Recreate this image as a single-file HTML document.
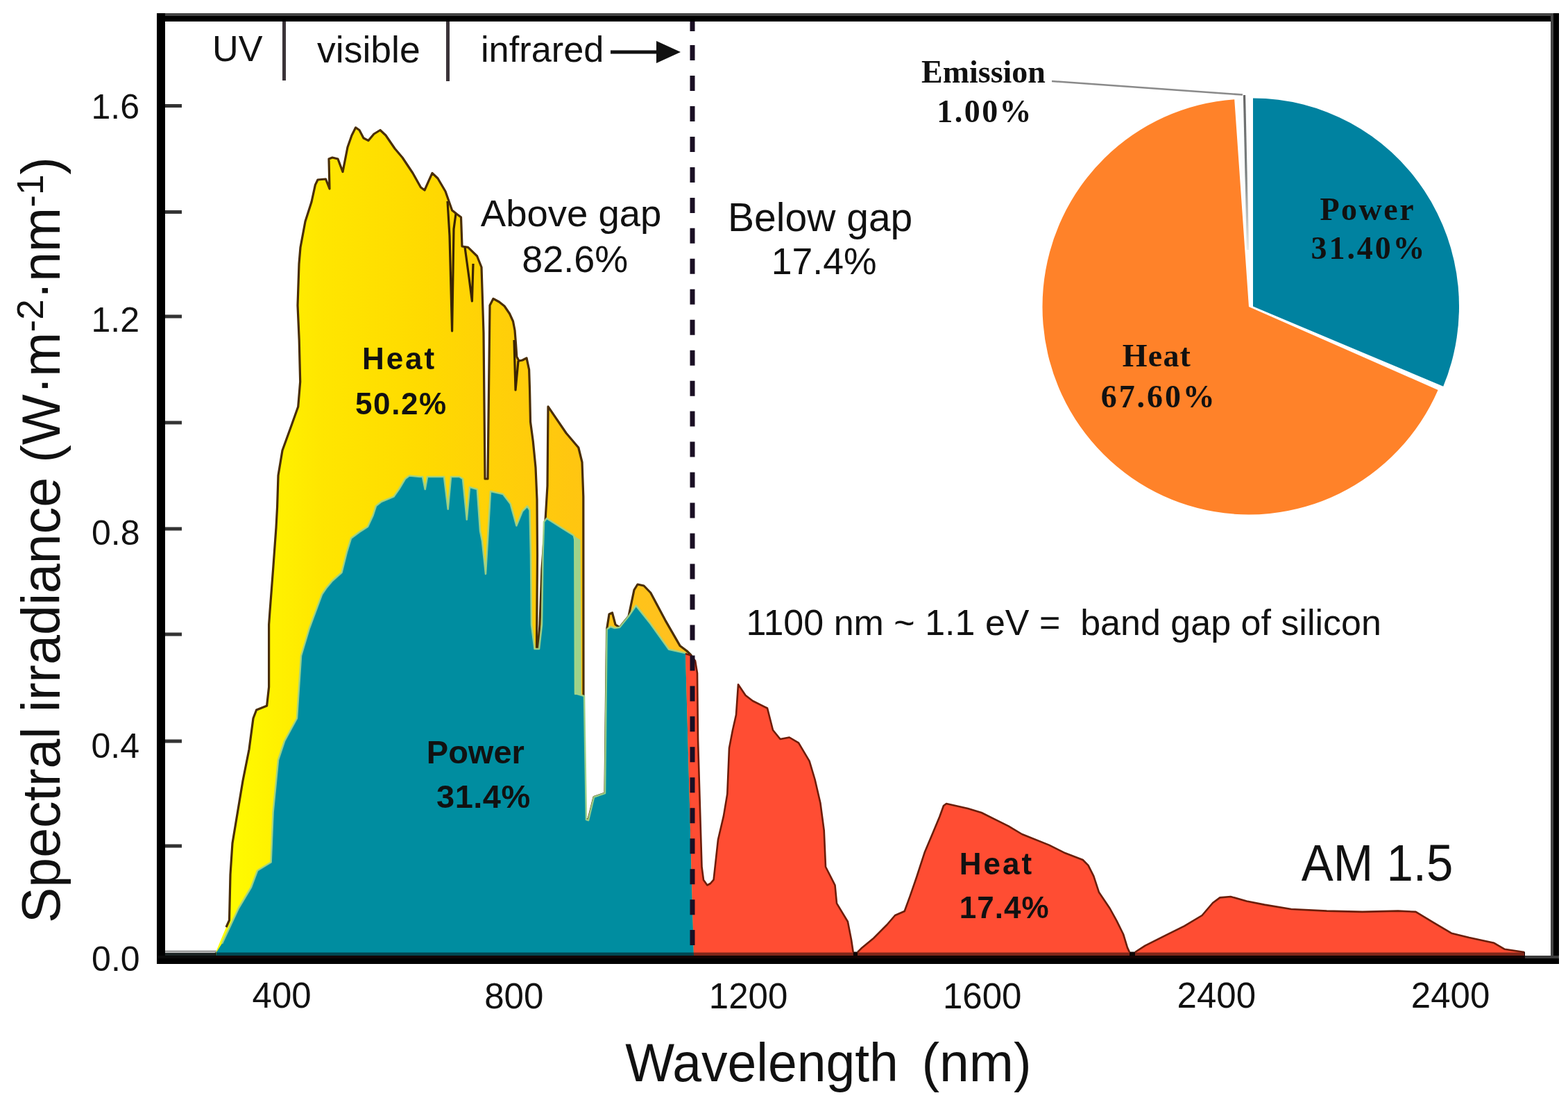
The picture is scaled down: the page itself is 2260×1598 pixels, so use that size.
<!DOCTYPE html>
<html><head><meta charset="utf-8"><title>AM 1.5 spectrum</title>
<style>
html,body{margin:0;padding:0;background:#fff;}
svg{display:block;}
text{font-family:"Liberation Sans",sans-serif;fill:#111;}
.b{font-weight:bold;}
.serif{font-family:"Liberation Serif",serif;font-weight:bold;}
</style></head><body>
<svg width="2260" height="1598" viewBox="0 0 2260 1598">
<defs>
<linearGradient id="yg" x1="330" y1="0" x2="1000" y2="0" gradientUnits="userSpaceOnUse">
<stop offset="0" stop-color="#FFFC00"/><stop offset="0.13" stop-color="#FFEE00"/><stop offset="0.2" stop-color="#FFE600"/>
<stop offset="0.42" stop-color="#FFDA00"/><stop offset="0.74" stop-color="#FFC610"/><stop offset="1" stop-color="#FFC022"/>
</linearGradient>
<linearGradient id="eg" x1="0" y1="137" x2="0" y2="360" gradientUnits="userSpaceOnUse"><stop offset="0" stop-color="#666"/><stop offset="0.5" stop-color="#7a8080"/><stop offset="1" stop-color="#e8eeee"/></linearGradient>
</defs>
<rect width="2260" height="1598" fill="#fff"/>
<!-- spectrum areas -->
<rect x="310" y="1371.5" width="1888" height="6" fill="#1a0a08"/>
<polygon points="310,1377.5 311,1372 318,1355 326,1336 330.5,1326 332,1260 335,1215 341,1179 350,1125 359,1080 365,1035 369.6,1023 384.6,1017 387.6,990 387.6,900 389,880.6 393.6,820.5 398,760 399.6,730 401,685 407,649 419,616 429.7,586 432.7,550 431.2,490 429,440 431,380 433,356.5 440,319 449,291 454.4,266.4 458,259 469.5,258 475,272 474,229 479,227 487,229 494,247.6 501,212 507,195 512.6,183.8 518,187.5 524,199 531,202.6 539,193 548,187.5 556,195 569,214 580,227 595,249.5 606.5,270 612,274 617.8,260.8 623,249.5 631,257 642,275.8 651.6,303 658.8,308.8 664.5,313 666,355 674.6,356.3 687.6,369 694,385 697,480 699,690 703,690 706,440 711,430.3 719.4,435 727,441 734.5,452 739.5,463 742,476 743.5,495 744.8,514 748,520 753,519 759,515.8 762.6,532.7 763.5,560 764.5,607.8 768.3,636 772,673.5 774,720 774.5,800 773.5,932.8 775.5,936 778,900 781,820 786,750 789,700 790,585.8 816,624 833.8,645 839,666 840.8,715.5 841,1000 843,1180 848,1181 856,1148.6 872,1143 874.6,906.8 878,885 882.5,883 887,900 893,904 906,888 914,850 919,842 928,844 937.7,854 958.8,893.6 980,930.4 990,938 1000,1377.5" fill="url(#yg)"/>
<polyline points="326,1336 330.5,1326 332,1260 335,1215 341,1179 350,1125 359,1080 365,1035 369.6,1023 384.6,1017 387.6,990 387.6,900 389,880.6 393.6,820.5 398,760 399.6,730 401,685 407,649 419,616 429.7,586 432.7,550 431.2,490 429,440 431,380 433,356.5 440,319 449,291 454.4,266.4 458,259 469.5,258 475,272 474,229 479,227 487,229 494,247.6 501,212 507,195 512.6,183.8 518,187.5 524,199 531,202.6 539,193 548,187.5 556,195 569,214 580,227 595,249.5 606.5,270 612,274 617.8,260.8 623,249.5 631,257 642,275.8 651.6,303 658.8,308.8 664.5,313 666,355 674.6,356.3 687.6,369 694,385 697,480 699,690 703,690 706,440 711,430.3 719.4,435 727,441 734.5,452 739.5,463 742,476 743.5,495 744.8,514 748,520 753,519 759,515.8 762.6,532.7 763.5,560 764.5,607.8 768.3,636 772,673.5 774,720 774.5,800 773.5,932.8 775.5,936 778,900 781,820 786,750 789,700 790,585.8 816,624 833.8,645 839,666 840.8,715.5 841,1000 843,1180 848,1181 856,1148.6 872,1143 874.6,906.8 878,885 882.5,883 887,900 893,904 906,888 914,850 919,842 928,844 937.7,854 958.8,893.6 980,930.4 990,938 996,944 1002,956" fill="none" stroke="#4a2e08" stroke-width="3.2" stroke-linejoin="round"/>
<polygon points="311,1377.5 312,1372 320,1359.6 344,1308.5 362,1278.5 371,1254.5 390.6,1242.5 393.6,1170 401,1095 410,1068 428,1035 434,945 446,905 464,856.6 470,847.7 479,837 492.5,825 500,795 506,775.6 518,766.6 530,759 537.6,742.6 542,729 549.6,723 567.6,715.6 575,705 584,690 590,685.5 605,687 609,687 612.7,705 616,687 635,687 640,687 645.7,733.6 650,687 662,687 667,690 672.8,748.6 677,702 687.8,705 692,765 695,780 700,827 704,760 707,708 709.4,708.4 725,712 735.7,726 744.4,757.5 753,736.5 760,729.5 763.5,735 765,800 766,900 770.5,935 777,935 781,900 782.5,800 784,752 788,747 826.8,771.5 829,780 829,999 842,1003 845,1181 848,1182 856,1148.6 872,1143 874.6,906.8 880,903 886,905 893,904 906,888 916.7,872.6 937.7,898.9 964,935.7 987.7,941 988,942 1000,1377.5" fill="#008DA0"/>
<polygon points="827,772 836.5,778 838,1001 828,1001" fill="#9fd28a"/>
<polyline points="320,1359.6 344,1308.5 362,1278.5 371,1254.5 390.6,1242.5 393.6,1170 401,1095 410,1068 428,1035 434,945 446,905 464,856.6 470,847.7 479,837 492.5,825 500,795 506,775.6 518,766.6 530,759 537.6,742.6 542,729 549.6,723 567.6,715.6 575,705 584,690 590,685.5 605,687 609,687 612.7,705 616,687 635,687 640,687 645.7,733.6 650,687 662,687 667,690 672.8,748.6 677,702 687.8,705 692,765 695,780 700,827 704,760 707,708 709.4,708.4 725,712 735.7,726 744.4,757.5 753,736.5 760,729.5 763.5,735 765,800 766,900 770.5,935 777,935 781,900 782.5,800 784,752 788,747 826.8,771.5 829,780 829,999 842,1003 845,1181 848,1182 856,1148.6 872,1143 874.6,906.8 880,903 886,905 893,904 906,888 916.7,872.6 937.7,898.9 964,935.7 987.7,941" fill="none" stroke="#a2d488" stroke-width="2.6" stroke-linejoin="round" opacity="0.9"/>
<polygon points="988,942 995,944 1002,952 1005,970 1006,1065 1010,1200 1011.5,1249 1014,1268 1019.4,1275.5 1024,1273 1028.6,1267.6 1035,1209.7 1043,1175.6 1048.3,1144 1051,1078 1056,1052 1061,1030 1064,986.3 1074.6,1002 1085,1010 1106,1020.5 1114,1052 1124.6,1065 1137.7,1062.5 1151,1070.4 1166.6,1096.7 1174.5,1123 1182.4,1157 1187.7,1196.6 1190,1249 1203.5,1275.5 1206,1301.7 1221.9,1328 1227,1354 1229.7,1372 1230,1377.5 1000,1377.5" fill="#FF4D33"/>
<polygon points="1236,1377.5 1236,1372 1241.4,1366.6 1259,1352 1278.4,1332.5 1290,1319 1303.7,1313 1311.5,1291.6 1321,1264.3 1333,1227.4 1344.6,1200 1354.3,1176.7 1360,1161 1364,1158 1395,1165 1414.7,1171 1434,1180.6 1453.6,1190.4 1473,1202 1512,1217.6 1535.4,1229.3 1560.7,1239 1568.5,1246.8 1576.3,1262.4 1584,1285.8 1599.7,1309 1609.4,1326.7 1619,1346 1625,1365.6 1628,1372 1628,1377.5" fill="#FF4D33"/>
<polygon points="1636,1377.5 1636,1372 1650.5,1362.6 1681.3,1347.2 1707,1334.4 1732.6,1319 1748,1301 1758.3,1293.4 1773.7,1292 1796.8,1298.5 1822.5,1303.6 1861,1310 1912.3,1312.6 1963.6,1313.9 2015,1312.6 2040.6,1313.9 2053.4,1321.6 2066.2,1329.3 2092,1344.7 2117.6,1351 2153.5,1358.8 2168.9,1367.8 2197,1372 2197,1377.5" fill="#FF4D33"/>
<polyline points="988,942 995,944 1002,952 1005,970 1006,1065 1010,1200 1011.5,1249 1014,1268 1019.4,1275.5 1024,1273 1028.6,1267.6 1035,1209.7 1043,1175.6 1048.3,1144 1051,1078 1056,1052 1061,1030 1064,986.3 1074.6,1002 1085,1010 1106,1020.5 1114,1052 1124.6,1065 1137.7,1062.5 1151,1070.4 1166.6,1096.7 1174.5,1123 1182.4,1157 1187.7,1196.6 1190,1249 1203.5,1275.5 1206,1301.7 1221.9,1328 1227,1354 1229.7,1372" fill="none" stroke="#6e1c08" stroke-width="2.6" stroke-linejoin="round"/>
<polyline points="1236,1372 1241.4,1366.6 1259,1352 1278.4,1332.5 1290,1319 1303.7,1313 1311.5,1291.6 1321,1264.3 1333,1227.4 1344.6,1200 1354.3,1176.7 1360,1161 1364,1158 1395,1165 1414.7,1171 1434,1180.6 1453.6,1190.4 1473,1202 1512,1217.6 1535.4,1229.3 1560.7,1239 1568.5,1246.8 1576.3,1262.4 1584,1285.8 1599.7,1309 1609.4,1326.7 1619,1346 1625,1365.6 1628,1372" fill="none" stroke="#6a1e0a" stroke-width="2.6" stroke-linejoin="round"/>
<polyline points="1636,1372 1650.5,1362.6 1681.3,1347.2 1707,1334.4 1732.6,1319 1748,1301 1758.3,1293.4 1773.7,1292 1796.8,1298.5 1822.5,1303.6 1861,1310 1912.3,1312.6 1963.6,1313.9 2015,1312.6 2040.6,1313.9 2053.4,1321.6 2066.2,1329.3 2092,1344.7 2117.6,1351 2153.5,1358.8 2168.9,1367.8 2197,1372" fill="none" stroke="#6a1e0a" stroke-width="2.6" stroke-linejoin="round"/>
<polyline points="645,290 648,340 651.6,477 654,330 657,308" fill="none" stroke="#3a2404" stroke-width="3.2" stroke-linejoin="round"/><polyline points="670,356 676,400 680.4,434 682,380" fill="none" stroke="#3a2404" stroke-width="3.2" stroke-linejoin="round"/><polyline points="741,490 743,562 747,520" fill="none" stroke="#3a2404" stroke-width="3.2" stroke-linejoin="round"/>
<!-- baseline -->
<line x1="238" y1="1371" x2="312" y2="1371" stroke="#999" stroke-width="3"/>
<rect x="238" y="1373" width="73" height="4.5" fill="#1c2424"/>
<rect x="310" y="1372.5" width="1888" height="5" fill="#000" opacity="0.5"/>
<!-- dashed line -->
<path d="M998,31 v14 M998,65.0 v22 M998,109.0 v22 M998,152.9 v22 M998,196.9 v22 M998,240.9 v22 M998,284.9 v22 M998,328.8 v22 M998,372.8 v22 M998,416.8 v22 M998,460.7 v22 M998,504.7 v22 M998,548.7 v22 M998,592.6 v22 M998,636.6 v22 M998,680.6 v22 M998,724.5 v22 M998,768.5 v22 M998,812.5 v22 M998,856.5 v22 M998,900.4 v22 M998,944.4 v22 M998,988.4 v22 M998,1032.3 v22 M998,1076.3 v22 M998,1120.3 v22 M998,1164.2 v22 M998,1208.2 v22 M998,1252.2 v22 M998,1296.2 v22 M998,1340.1 v22" stroke="#1a0f24" stroke-width="7" fill="none"/>
<!-- frame -->
<rect x="226" y="19" width="2021" height="4" fill="#444"/>
<rect x="226" y="23" width="2021" height="8" fill="#000"/>
<rect x="226" y="19" width="12" height="1370" fill="#000"/>
<rect x="2235" y="19" width="4" height="1360" fill="#444"/>
<rect x="2239" y="19" width="8" height="1370" fill="#000"/>
<rect x="226" y="1377" width="2021" height="4" fill="#3c3c3c"/>
<rect x="226" y="1377" width="85" height="4" fill="#0a0a0a"/>
<rect x="310" y="1377" width="1888" height="4" fill="#120404"/>
<rect x="226" y="1381" width="2021" height="8" fill="#000"/>
<rect x="238" y="150.0" width="24" height="5" fill="#333"/><rect x="238" y="303.0" width="24" height="5" fill="#333"/><rect x="238" y="453.5" width="24" height="5" fill="#333"/><rect x="238" y="606.5" width="24" height="5" fill="#333"/><rect x="238" y="759.5" width="24" height="5" fill="#333"/><rect x="238" y="911.5" width="24" height="5" fill="#333"/><rect x="238" y="1065.5" width="24" height="5" fill="#333"/><rect x="238" y="1216.5" width="24" height="5" fill="#333"/>
<!-- region dividers -->
<rect x="407" y="31" width="5" height="85" fill="#3a3338"/>
<rect x="643" y="31" width="5" height="86" fill="#3a3338"/>
<text transform="translate(86,1330) rotate(-90)" font-size="77">Spectral irradiance (W·m<tspan font-size="53" dy="-24">-2</tspan><tspan dy="24">·nm</tspan><tspan font-size="53" dy="-24">-1</tspan><tspan dy="24">)</tspan></text>
<rect x="880" y="72.5" width="70" height="5" fill="#111"/>
<polygon points="946,59 981,75 946,91" fill="#111"/>
<!-- pie -->
<path d="M1800.0,442.0 L2072.6,561.9 A297.5,299.5 0 1 1 1779.2,143.2 Z" fill="#FF8229"/>
<path d="M1806.0,441.5 L1806.0,141.5 A297.0,300.0 0 0 1 2080.2,556.8 Z" fill="#0082A0"/>
<path d="M1800.5,441.0 L1782.8,141.5 A298.0,300.0 0 0 1 1800.5,141.0 Z" fill="#fbfdfd"/>
<polyline points="1516,117 1791,136.5" fill="none" stroke="#8a8a8a" stroke-width="2.6"/>
<path d="M1793.5,137 L1798.5,360" stroke="url(#eg)" stroke-width="3.2" fill="none"/>
<text id="t_uv" x="306.1" y="88" font-size="52.2" fill="#111">UV</text>
<text id="t_vis" x="457" y="89.6" font-size="53.5" fill="#111">visible</text>
<text id="t_ir" x="693" y="89.4" font-size="52.3" fill="#111">infrared</text>
<text id="t_ag" x="692.8" y="326" font-size="54.5" fill="#111">Above gap</text>
<text id="t_ag2" x="752.3" y="391.8" font-size="53.9" fill="#111">82.6%</text>
<text id="t_bg" x="1049.1" y="332.6" font-size="57" fill="#111">Below gap</text>
<text id="t_bg2" x="1111.8" y="394.8" font-size="53.5" fill="#111">17.4%</text>
<text id="t_hy" class="b" x="522" y="531.8" font-size="44" fill="#2a1a02" letter-spacing="2.9">Heat</text>
<text id="t_hy2" class="b" x="512" y="596.8" font-size="44" fill="#2a1a02" letter-spacing="1.6">50.2%</text>
<text id="t_pt" class="b" x="614.8" y="1099.6" font-size="47" fill="#06191d">Power</text>
<text id="t_pt2" class="b" x="629" y="1164.4" font-size="47" fill="#06191d" letter-spacing="0.5">31.4%</text>
<text id="t_bgs" x="1075.4" y="914.8" font-size="52" fill="#111">1100 nm ~ 1.1 eV =&#160; band gap of silicon</text>
<text id="t_hr" class="b" x="1382.8" y="1259.8" font-size="44" fill="#4a0604" letter-spacing="3">Heat</text>
<text id="t_hr2" class="b" x="1382.8" y="1323.2" font-size="44" fill="#4a0604" letter-spacing="1">17.4%</text>
<text id="t_am" transform="translate(1875.8,1269.2) scale(0.932,1)" font-size="74" fill="#111">AM 1.5</text>
<text id="t_em" class="serif" x="1328" y="118.6" font-size="46" fill="#111">Emission</text>
<text id="t_em2" class="serif" x="1350.3" y="175.8" font-size="46" fill="#111" letter-spacing="2.45">1.00%</text>
<text id="t_pp" class="serif" x="1902.5" y="317.2" font-size="46" fill="#0c1e26" letter-spacing="2.5">Power</text>
<text id="t_pp2" class="serif" x="1889.6" y="373" font-size="46" fill="#0c1e26" letter-spacing="2.9">31.40%</text>
<text id="t_hp" class="serif" x="1617.8" y="528.2" font-size="46" fill="#1e1006" letter-spacing="1.2">Heat</text>
<text id="t_hp2" class="serif" x="1586.8" y="587" font-size="46" fill="#1e1006" letter-spacing="2.9">67.60%</text>
<text id="t_wl" transform="translate(901.2,1557.8) scale(0.975,1)" font-size="77" fill="#111">Wavelength</text>
<text id="t_nm" x="1328.4" y="1557.8" font-size="77" fill="#111">(nm)</text>
<text id="y16" x="131.5" y="171" font-size="50" fill="#111">1.6</text>
<text id="y12" x="131.5" y="477.8" font-size="50" fill="#111">1.2</text>
<text id="y08" x="132" y="785" font-size="50" fill="#111">0.8</text>
<text id="y04" x="131.5" y="1092" font-size="50" fill="#111">0.4</text>
<text id="y00" x="132.1" y="1399" font-size="50" fill="#111">0.0</text>
<text id="x400" x="363.6" y="1452" font-size="51" fill="#111">400</text>
<text id="x800" x="698.2" y="1452.9" font-size="51" fill="#111">800</text>
<text id="x1200" x="1021.8" y="1452.9" font-size="51" fill="#111">1200</text>
<text id="x1600" x="1359" y="1452.9" font-size="51" fill="#111">1600</text>
<text id="x2400a" x="1696.6" y="1452" font-size="51" fill="#111">2400</text>
<text id="x2400b" x="2033.8" y="1452" font-size="51" fill="#111">2400</text>
</svg>
</body></html>
